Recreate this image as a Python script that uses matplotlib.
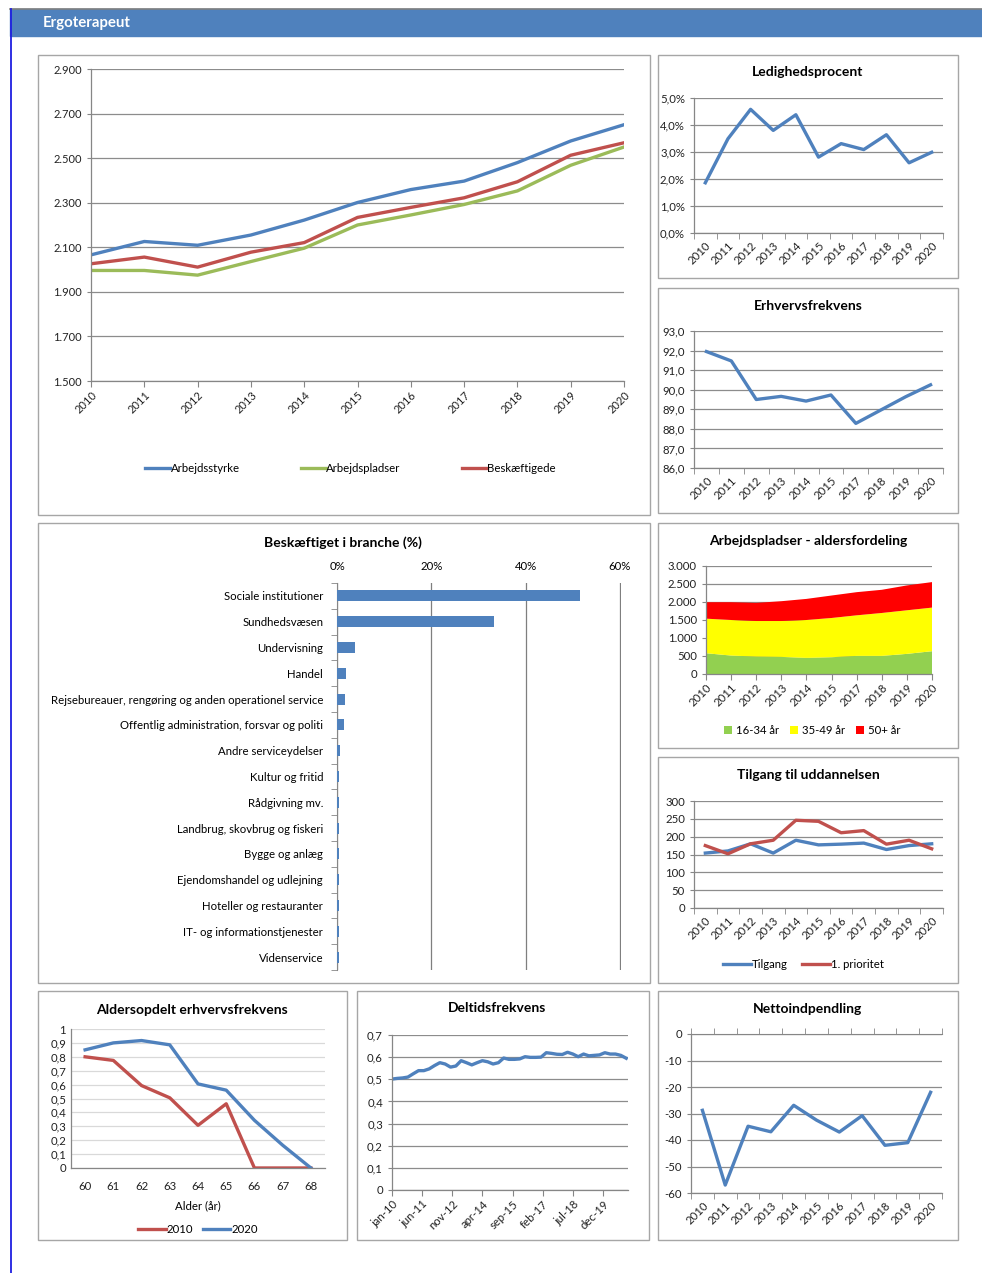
import matplotlib
matplotlib.use('Agg')
import matplotlib.pyplot as plt
from matplotlib.patches import Rectangle
from matplotlib.lines import Line2D
from matplotlib.ticker import FuncFormatter
import pandas as pd
import numpy as np

plt.rcParams['font.family'] = ['Lato', 'DejaVu Sans']
plt.rcParams['axes.unicode_minus'] = False

# ---------------- data ----------------
years = ['2010', '2011', '2012', '2013', '2014', '2015', '2016', '2017', '2018', '2019', '2020']
arbejdsstyrke = [2066, 2126, 2109, 2155, 2222, 2301, 2359, 2397, 2480, 2577, 2650]
arbejdspladser = [1996, 1996, 1975, 2036, 2096, 2200, 2245, 2292, 2353, 2468, 2550]
beskaeftigede = [2026, 2056, 2011, 2078, 2121, 2234, 2279, 2322, 2394, 2513, 2569]

ledighed = [1.86, 3.49, 4.58, 3.80, 4.38, 2.81, 3.31, 3.09, 3.64, 2.60, 2.99]

years_no2016 = ['2010', '2011', '2012', '2013', '2014', '2015', '2017', '2018', '2019', '2020']
erhvervsfrekvens = [91.95, 91.47, 89.50, 89.66, 89.42, 89.73, 88.28, 88.96, 89.64, 90.25]

alder_16_34 = [577, 512, 484, 475, 447, 466, 503, 503, 559, 633]
alder_35_49 = [960, 988, 988, 997, 1053, 1090, 1127, 1192, 1211, 1211]
alder_50p = [457, 494, 503, 550, 586, 624, 643, 644, 690, 709]

tilgang = [154, 160, 180, 154, 190, 177, 179, 182, 164, 175, 180]
prioritet1 = [175, 152, 180, 190, 246, 243, 211, 217, 179, 190, 166]

brancher = ['Sociale institutioner', 'Sundhedsvæsen', 'Undervisning', 'Handel',
            'Rejsebureauer, rengøring og anden operationel service',
            'Offentlig administration, forsvar og politi', 'Andre serviceydelser',
            'Kultur og fritid', 'Rådgivning mv.', 'Landbrug, skovbrug og fiskeri',
            'Bygge og anlæg', 'Ejendomshandel og udlejning', 'Hoteller og restauranter',
            'IT- og informationstjenester', 'Videnservice']
branche_andel = [0.515, 0.333, 0.039, 0.020, 0.017, 0.015, 0.007, 0.005, 0.005,
                 0.005, 0.005, 0.005, 0.005, 0.005, 0.005]

alder = ['60', '61', '62', '63', '64', '65', '66', '67', '68']
erhv_2010 = [0.80, 0.774, 0.593, 0.505, 0.307, 0.462, 0.0, 0.0, 0.0]
erhv_2020 = [0.85, 0.90, 0.917, 0.886, 0.605, 0.56, 0.343, 0.164, 0.0]

deltid_start = '2010-01-01'
deltid = [0.501, 0.504, 0.506, 0.510, 0.525, 0.539, 0.539, 0.547, 0.562, 0.575,
          0.569, 0.555, 0.560, 0.584, 0.575, 0.565, 0.575, 0.584, 0.579, 0.569,
          0.575, 0.596, 0.590, 0.590, 0.592, 0.602, 0.599, 0.599, 0.600, 0.620,
          0.617, 0.613, 0.612, 0.622, 0.614, 0.602, 0.614, 0.606, 0.608, 0.610,
          0.620, 0.614, 0.614, 0.608, 0.595]
deltid_ticklabels = ['jan-10', 'jun-11', 'nov-12', 'apr-14', 'sep-15', 'feb-17', 'jul-18', 'dec-19']

nettoindpendling = [-28.8, -57, -34.8, -36.9, -26.9, -32.5, -37, -30.8, -42, -41, -22]

# ---------------- style ----------------
BLUE = '#4F81BD'
RED = '#C0504D'
GREEN = '#9BBB59'
GRID = '#8C8C8C'
AXC = '#868686'
FS = 8.2
TFS = 10
LW = 2.4

W, H = 982, 1273
fig = plt.figure(figsize=(W / 100, H / 100), dpi=100)
fig.patch.set_facecolor('white')


def px_axes(l, t, r, b):
    return fig.add_axes([l / W, 1 - b / H, (r - l) / W, (b - t) / H])


def panel(l, t, r, b):
    fig.patches.append(Rectangle((l / W, 1 - b / H), (r - l) / W, (b - t) / H,
                                 transform=fig.transFigure, fill=False,
                                 edgecolor='#A6A6A6', lw=1.0, zorder=0))


def ftext(x, y, s, **kw):
    fig.text(x / W, 1 - y / H, s, **kw)


def base_style(ax):
    for s in ['top', 'right']:
        ax.spines[s].set_visible(False)
    for s in ['left', 'bottom']:
        ax.spines[s].set_color(AXC)
        ax.spines[s].set_linewidth(0.9)
    ax.grid(axis='y', color=GRID, lw=0.9)
    ax.set_axisbelow(True)
    ax.tick_params(labelsize=FS, colors='#222222', length=3, width=0.8)
    ax.tick_params(axis='both', which='both', color=AXC)


def cat_between(ax, labels, rot=45):
    n = len(labels)
    ax.set_xlim(-0.5, n - 0.5)
    ax.set_xticks(np.arange(n))
    ax.set_xticklabels(labels, rotation=rot, ha='right' if rot else 'center',
                       rotation_mode='anchor')
    ax.set_xticks(np.arange(n + 1) - 0.5, minor=True)
    ax.tick_params(axis='x', which='major', length=0, pad=5)
    ax.tick_params(axis='x', which='minor', length=4)


def dk(fmt):
    def f(v, pos):
        s = format(v, fmt)
        return s.replace(',', 'X').replace('.', ',').replace('X', '.')
    return FuncFormatter(f)


# ---------------- header ----------------
fig.patches.append(Rectangle((10 / W, 1 - 36 / H), (W - 10) / W, 27 / H,
                             transform=fig.transFigure, color='#4F81BD', zorder=1))
fig.lines.append(Line2D([10 / W, 1], [1 - 9 / H, 1 - 9 / H], transform=fig.transFigure,
                        color='#7F7F7F', lw=1.2))
fig.lines.append(Line2D([10.5 / W, 10.5 / W], [0, 1 - 9 / H], transform=fig.transFigure,
                        color='#1F1FE0', lw=1.3))
ftext(43, 23, 'Ergoterapeut', color='white', fontsize=10.8, fontweight='bold',
      va='center', ha='left')

# ---------------- main chart ----------------
panel(38, 55, 650, 515)
ax = px_axes(91, 69, 624, 381)
base_style(ax)
x = np.arange(len(years))
ax.plot(x, arbejdsstyrke, color=BLUE, lw=LW, label='Arbejdsstyrke')
ax.plot(x, arbejdspladser, color=GREEN, lw=LW, label='Arbejdspladser')
ax.plot(x, beskaeftigede, color=RED, lw=LW, label='Beskæftigede')
ax.set_xlim(0, len(years) - 1)
ax.set_ylim(1500, 2900)
ax.set_yticks(np.arange(1500, 2901, 200))
ax.yaxis.set_major_formatter(dk(',.0f'))
ax.set_xticks(x)
ax.set_xticklabels(years, rotation=45, ha='right', rotation_mode='anchor')
ax.tick_params(axis='x', length=4, pad=2)
ax.tick_params(labelsize=8)
ax.legend(loc='center', bbox_to_anchor=(0.487, -0.282), ncol=3, frameon=False,
          fontsize=8.2, handlelength=2.2, handletextpad=0.0, columnspacing=5.4)

# ---------------- Ledighedsprocent ----------------
panel(658, 55, 958, 278)
ftext(808, 72, 'Ledighedsprocent', fontsize=TFS, fontweight='bold', ha='center', va='center')
ax = px_axes(694, 98, 943, 233)
base_style(ax)
ax.plot(np.arange(len(years)), ledighed, color=BLUE, lw=LW)
cat_between(ax, years)
ax.set_ylim(0, 5)
ax.set_yticks(np.arange(0, 5.01, 1))
ax.yaxis.set_major_formatter(FuncFormatter(lambda v, p: f'{v:.1f}%'.replace('.', ',')))

# ---------------- Erhvervsfrekvens ----------------
panel(658, 288, 958, 513)
ftext(808, 306, 'Erhvervsfrekvens', fontsize=TFS, fontweight='bold', ha='center', va='center')
ax = px_axes(694, 331, 943, 468)
base_style(ax)
ax.plot(np.arange(len(years_no2016)), erhvervsfrekvens, color=BLUE, lw=LW)
cat_between(ax, years_no2016)
ax.set_ylim(86, 93)
ax.set_yticks(np.arange(86, 93.01, 1))
ax.yaxis.set_major_formatter(FuncFormatter(lambda v, p: f'{v:.1f}'.replace('.', ',')))

# ---------------- Arbejdspladser - aldersfordeling ----------------
panel(658, 523, 958, 748)
ftext(808, 541, 'Arbejdspladser - aldersfordeling', fontsize=TFS, fontweight='bold',
      ha='center', va='center')
ax = px_axes(706, 566, 932, 674)
base_style(ax)
xa = np.arange(len(years_no2016))
ax.stackplot(xa, alder_16_34, alder_35_49, alder_50p,
             colors=['#92D050', '#FFFF00', '#FF0000'],
             labels=['16-34 år', '35-49 år', '50+ år'], lw=0)
ax.set_xlim(0, len(xa) - 1)
ax.set_ylim(0, 3000)
ax.set_yticks(np.arange(0, 3001, 500))
ax.yaxis.set_major_formatter(dk(',.0f'))
ax.set_xticks(xa)
ax.set_xticklabels(years_no2016, rotation=45, ha='right', rotation_mode='anchor')
ax.tick_params(axis='x', length=4, pad=2)
ax.legend(loc='center', bbox_to_anchor=(0.47, -0.52), ncol=3, frameon=False,
          fontsize=FS, handlelength=0.7, handleheight=0.7, handletextpad=0.3,
          columnspacing=1.0)

# ---------------- Tilgang til uddannelsen ----------------
panel(658, 757, 958, 983)
ftext(808, 775, 'Tilgang til uddannelsen', fontsize=TFS, fontweight='bold',
      ha='center', va='center')
ax = px_axes(694, 801, 943, 908)
base_style(ax)
ax.plot(np.arange(len(years)), tilgang, color=BLUE, lw=LW, label='Tilgang')
ax.plot(np.arange(len(years)), prioritet1, color=RED, lw=LW, label='1. prioritet')
cat_between(ax, years)
ax.set_ylim(0, 300)
ax.set_yticks(np.arange(0, 301, 50))
ax.legend(loc='center', bbox_to_anchor=(0.44, -0.53), ncol=2, frameon=False,
          fontsize=FS, handlelength=2.4, handletextpad=0.1, columnspacing=1.3)

# ---------------- Beskæftiget i branche ----------------
panel(38, 523, 650, 983)
ftext(343, 543, 'Beskæftiget i branche (%)', fontsize=TFS, fontweight='bold',
      ha='center', va='center')
ax = px_axes(337, 583, 621, 970)
n = len(brancher)
yb = np.arange(n)
ax.barh(yb, branche_andel, height=0.42, color=BLUE, zorder=3)
ax.set_ylim(n - 0.5, -0.5)
ax.set_xlim(0, 0.602)
ax.xaxis.tick_top()
ax.set_xticks([0, 0.2, 0.4, 0.6])
ax.xaxis.set_major_formatter(FuncFormatter(lambda v, p: f'{v * 100:.0f}%'))
ax.grid(axis='x', color='#7F7F7F', lw=0.9)
ax.set_axisbelow(True)
for s in ['top', 'right', 'bottom']:
    ax.spines[s].set_visible(False)
ax.spines['left'].set_color(AXC)
ax.set_yticks(yb)
ax.set_yticklabels(brancher)
ax.set_yticks(np.arange(n + 1) - 0.5, minor=True)
ax.tick_params(axis='y', which='major', length=0, pad=10, labelsize=FS)
ax.tick_params(axis='y', which='minor', length=4, color=AXC)
ax.tick_params(axis='x', length=0, pad=8, labelsize=FS)

# ---------------- Aldersopdelt erhvervsfrekvens ----------------
panel(38, 991, 347, 1240)
ftext(192, 1010, 'Aldersopdelt erhvervsfrekvens', fontsize=TFS, fontweight='bold',
      ha='center', va='center')
ax = px_axes(71, 1029, 325, 1168)
base_style(ax)
ax.grid(axis='y', color='#D9D9D9', lw=0.9)
xa = np.arange(len(alder))
ax.plot(xa, erhv_2010, color=RED, lw=LW, label='2010')
ax.plot(xa, erhv_2020, color=BLUE, lw=LW, label='2020')
cat_between(ax, alder, rot=0)
ax.tick_params(axis='x', which='minor', length=0)
ax.tick_params(axis='x', which='major', pad=9)
ax.tick_params(axis='y', length=0)
ax.set_ylim(0, 1)
ax.set_yticks(np.arange(0, 1.001, 0.1))
ax.yaxis.set_major_formatter(FuncFormatter(
    lambda v, p: '0' if abs(v) < 1e-9 else ('1' if abs(v - 1) < 1e-9 else f'{v:.1f}'.replace('.', ','))))
ax.set_xlabel('Alder (år)', fontsize=FS, labelpad=6)
ax.legend(loc='center', bbox_to_anchor=(0.5, -0.44), ncol=2, frameon=False,
          fontsize=FS, handlelength=2.4, handletextpad=0.1, columnspacing=0.8)

# ---------------- Deltidsfrekvens ----------------
panel(357, 991, 649, 1240)
ftext(497, 1008, 'Deltidsfrekvens', fontsize=TFS, fontweight='bold', ha='center', va='center')
ax = px_axes(392, 1035, 628, 1190)
base_style(ax)
dates = pd.date_range(deltid_start, periods=len(deltid), freq='QS')
ax.plot(dates, deltid, color=BLUE, lw=LW)
tick_dates = pd.date_range(deltid_start, periods=len(deltid_ticklabels), freq='17MS')
ax.set_xticks(tick_dates)
ax.set_xticklabels(deltid_ticklabels, rotation=45, ha='right', rotation_mode='anchor')
ax.set_xlim(pd.Timestamp(deltid_start), pd.Timestamp('2021-02-01'))
ax.tick_params(axis='x', length=4, pad=2)
ax.set_ylim(0, 0.7)
ax.set_yticks(np.arange(0, 0.701, 0.1))
ax.yaxis.set_major_formatter(FuncFormatter(
    lambda v, p: '0' if abs(v) < 1e-9 else f'{v:.1f}'.replace('.', ',')))

# ---------------- Nettoindpendling ----------------
panel(658, 991, 958, 1240)
ftext(808, 1009, 'Nettoindpendling', fontsize=TFS, fontweight='bold', ha='center', va='center')
ax = px_axes(691, 1034, 942, 1193)
base_style(ax)
ax.plot(np.arange(len(years)), nettoindpendling, color=BLUE, lw=LW)
cat_between(ax, years)
ax.set_ylim(-60, 0)
ax.set_yticks(np.arange(-60, 1, 10))
ax.spines['top'].set_visible(True)
ax.spines['top'].set_color(AXC)
ax.xaxis.set_ticks_position('both')
ax.tick_params(axis='x', which='major', top=False)

fig.savefig('out.png', dpi=100, facecolor='white')
